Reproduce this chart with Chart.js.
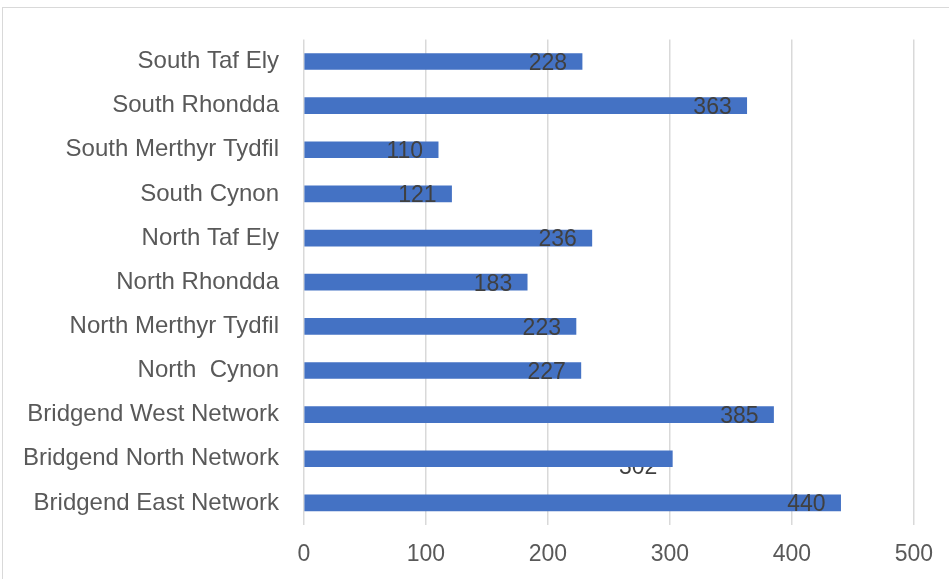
<!DOCTYPE html>
<html>
<head>
<meta charset="utf-8">
<script src="https://cdn.jsdelivr.net/npm/chart.js@4"></script>
<style>
  html, body { margin: 0; padding: 0; background: #fff; }
  #wrap { position: relative; width: 949px; height: 579px; overflow: hidden; }
  #frame { position: absolute; left: 2px; top: 7px; width: 960px; height: 600px; border: 1.5px solid #d9d9d9; box-sizing: border-box; }
  canvas { position: absolute; left: 0; top: 0; }
</style>
</head>
<body>
<div id="wrap">
  <div id="frame"></div>
  <canvas id="barChart" width="949" height="579"></canvas>
</div>
<script>
// Areas, listed top to bottom
const areas = [
  'South Taf Ely', 'South Rhondda', 'South Merthyr Tydfil', 'South Cynon',
  'North Taf Ely', 'North Rhondda', 'North Merthyr Tydfil', 'North  Cynon',
  'Bridgend West Network', 'Bridgend North Network', 'Bridgend East Network'
];
const counts = [228, 363, 110, 121, 236, 183, 223, 227, 385, 302, 440];
const xTicks = [0, 100, 200, 300, 400, 500];

// labels that sit lower and get partly covered by their bar
const tuckedLabels = [9];

function drawLabel(chart, i) {
  const ctx = chart.ctx;
  const bar = chart.getDatasetMeta(0).data[i];
  const low = tuckedLabels.includes(i);
  ctx.save();
  ctx.font = '23px "Liberation Sans", Arial, sans-serif';
  ctx.fillStyle = '#404040';
  ctx.textAlign = 'right';
  ctx.textBaseline = 'middle';
  ctx.fillText(String(counts[i]), bar.x - 15, bar.y + (low ? 9 : 2));
  ctx.restore();
}

const valueLabels = {
  id: 'valueLabels',
  beforeDatasetsDraw(chart) {
    tuckedLabels.forEach(i => drawLabel(chart, i));
  },
  afterDatasetsDraw(chart) {
    counts.forEach((v, i) => { if (!tuckedLabels.includes(i)) drawLabel(chart, i); });
  }
};

new Chart(document.getElementById('barChart'), {
  type: 'bar',
  data: {
    labels: areas,
    datasets: [{
      data: counts,
      backgroundColor: '#4472c4',
      borderWidth: 0,
      barThickness: 16
    }]
  },
  options: {
    indexAxis: 'y',
    responsive: false,
    animation: false,
    layout: { padding: { top: 37, right: 34, left: 0, bottom: 0 } },
    plugins: {
      legend: { display: false },
      tooltip: { enabled: false }
    },
    scales: {
      x: {
        min: 0,
        max: 500,
        afterBuildTicks(axis) { axis.ticks = xTicks.map(v => ({ value: v })); },
        afterFit(axis) { axis.height = 54; },
        grid: { color: '#d9d9d9', lineWidth: 1.5, drawTicks: false },
        border: { display: false },
        ticks: {
          padding: 16,
          color: '#595959',
          font: { family: '"Liberation Sans", Arial, sans-serif', size: 23 }
        }
      },
      y: {
        afterFit(axis) { axis.width = 304; },
        grid: { display: false, drawTicks: false },
        border: { display: false },
        ticks: {
          padding: 25,
          color: '#595959',
          font: { family: '"Liberation Sans", Arial, sans-serif', size: 24 }
        }
      }
    }
  },
  plugins: [valueLabels]
});
</script>
</body>
</html>
